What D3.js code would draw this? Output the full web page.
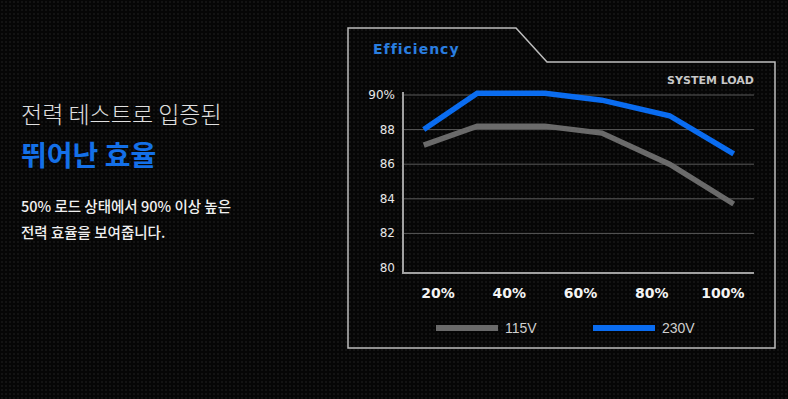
<!DOCTYPE html>
<html>
<head>
<meta charset="utf-8">
<script src="https://cdn.jsdelivr.net/npm/d3@7"></script>
<style>
  body { margin: 0; background: #070707; }
  svg { display: block; }
</style>
</head>
<body>
<svg id="chart" width="788" height="399"></svg>
<script>
// load points (% of system load) and efficiency values
const loads = [16, 31, 50, 66, 85, 103];
const eff115 = [87.1, 88.2, 88.2, 87.8, 86.0, 83.7];
const eff230 = [88.0, 90.1, 90.1, 89.7, 88.8, 86.6];
const xTicks = [20, 40, 60, 80, 100];
const yTicks = [80, 82, 84, 86, 88, 90];
const seriesNames = ["115V", "230V"];
const seriesColors = ["#6a6a6a", "#0a6cf0"];

const svg = d3.select("#chart");
const krFont = "'Noto Sans CJK KR', 'Noto Sans', sans-serif";

// dotted background texture
const defs = svg.append("defs");
const pat = defs.append("pattern")
  .attr("id", "dots")
  .attr("width", 4)
  .attr("height", 4)
  .attr("patternUnits", "userSpaceOnUse");
pat.append("rect").attr("width", 4).attr("height", 4).attr("fill", "#060606");
pat.append("rect").attr("x", 1).attr("y", 1).attr("width", 2).attr("height", 2).attr("fill", "#131313");

svg.append("rect").attr("width", 788).attr("height", 399).attr("fill", "url(#dots)");

// left text block
const left = svg.append("g").attr("font-family", krFont);
left.append("text")
  .attr("x", 21).attr("y", 123)
  .attr("fill", "#e0e0e0")
  .attr("font-size", 23)
  .attr("font-weight", 300)
  .text("전력 테스트로 입증된");
left.append("text")
  .attr("x", 21).attr("y", 166)
  .attr("fill", "#1470e8")
  .attr("font-size", 28)
  .attr("font-weight", 700)
  .text("뛰어난 효율");
left.append("text")
  .attr("x", 21).attr("y", 212)
  .attr("fill", "#f0f0f0")
  .attr("font-size", 14.5)
  .attr("font-weight", 500)
  .text("50% 로드 상태에서 90% 이상 높은");
left.append("text")
  .attr("x", 21).attr("y", 238)
  .attr("fill", "#f0f0f0")
  .attr("font-size", 14.5)
  .attr("font-weight", 500)
  .text("전력 효율을 보여줍니다.");

// chart frame with cut corner
svg.append("path")
  .attr("d", "M348,28 H516 L547,62 H775 V348 H348 Z")
  .attr("fill", "none")
  .attr("stroke", "#bdbdbd")
  .attr("stroke-width", 1.5);

svg.append("text")
  .attr("x", 373).attr("y", 54)
  .attr("fill", "#2a7ee0")
  .attr("font-family", "'DejaVu Sans', sans-serif")
  .attr("font-size", 14)
  .attr("font-weight", 700)
  .attr("letter-spacing", 1)
  .text("Efficiency");

svg.append("text")
  .attr("x", 754).attr("y", 84)
  .attr("text-anchor", "end")
  .attr("fill", "#c8c8c8")
  .attr("font-family", "'DejaVu Sans', sans-serif")
  .attr("font-size", 11)
  .attr("font-weight", 700)
  .text("SYSTEM LOAD");

// scales
const x = d3.scaleLinear().domain([20, 100]).range([438, 723]);
const y = d3.scaleLinear().domain([80, 90]).range([268, 95]);
const plotLeft = 403, plotRight = 754, axisY = 273;

// grid lines
svg.append("g")
  .selectAll("line")
  .data(yTicks.filter(d => d > 80))
  .join("line")
  .attr("x1", plotLeft).attr("x2", plotRight)
  .attr("y1", d => y(d)).attr("y2", d => y(d))
  .attr("stroke", "#5a5a5a")
  .attr("stroke-width", 1);

// axis lines
svg.append("path")
  .attr("d", `M${plotLeft},${y(90) - 3} V${axisY} H${plotRight}`)
  .attr("fill", "none")
  .attr("stroke", "#a0a0a0")
  .attr("stroke-width", 2);

// y tick labels
svg.append("g")
  .selectAll("text")
  .data(yTicks)
  .join("text")
  .attr("x", 395)
  .attr("y", d => y(d) + 4)
  .attr("text-anchor", "end")
  .attr("fill", "#e6e6e6")
  .attr("font-family", "'DejaVu Sans', sans-serif")
  .attr("font-size", 12)
  .text(d => d === 90 ? d + "%" : d);

// x tick labels
svg.append("g")
  .selectAll("text")
  .data(xTicks)
  .join("text")
  .attr("x", d => x(d))
  .attr("y", 298)
  .attr("text-anchor", "middle")
  .attr("fill", "#f4f4f4")
  .attr("font-family", "'DejaVu Sans', sans-serif")
  .attr("font-size", 14)
  .attr("font-weight", 700)
  .text(d => d + "%");

// lines
const line = d3.line()
  .x(d => x(d[0]))
  .y(d => y(d[1]));

[eff115, eff230].forEach((vals, i) => {
  svg.append("path")
    .datum(loads.map((l, j) => [l, vals[j]]))
    .attr("d", line)
    .attr("fill", "none")
    .attr("stroke", seriesColors[i])
    .attr("stroke-width", 5.5)
    .attr("stroke-linejoin", "miter");
});

// legend
const legend = svg.append("g");
seriesNames.forEach((name, i) => {
  const lx = 436 + i * 157;
  legend.append("rect")
    .attr("x", lx).attr("y", 325)
    .attr("width", 62).attr("height", 6)
    .attr("fill", seriesColors[i]);
  legend.append("text")
    .attr("x", lx + 69).attr("y", 333)
    .attr("fill", "#d0d0d0")
    .attr("font-family", "'Liberation Sans', sans-serif")
    .attr("font-size", 14)
    .text(name);
});
</script>
</body>
</html>
